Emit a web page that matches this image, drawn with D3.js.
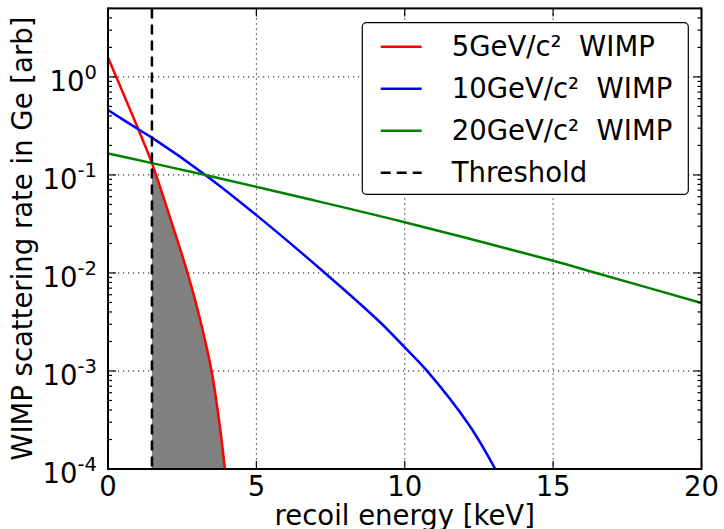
<!DOCTYPE html>
<html>
<head>
<meta charset="utf-8">
<script src="https://cdn.jsdelivr.net/npm/d3@7"></script>
<style>
  body { margin: 0; background: #fff; }
  svg { display: block; font-family: "DejaVu Sans", sans-serif; }
</style>
</head>
<body>
<div id="chart"></div>
<script>
// recoil energy [keV] and rate
const redEnergy = [0, 0.61, 1.02, 1.48, 2.0, 2.68, 3.1, 3.49, 3.75, 3.94];
const redRate = [1.574, 0.579, 0.292, 0.132, 0.0447, 0.01, 0.00339, 0.001, 0.000302, 0.0001];
const blueEnergy = [0, 1.02, 1.48, 3.28, 5, 7.31, 9.16, 10, 10.73, 12.19, 13.05];
const blueRate = [0.46, 0.292, 0.24, 0.1, 0.0389, 0.01, 0.00316, 0.00174, 0.00102, 0.000275, 0.0001];
const greenEnergy = [0, 1.48, 3.28, 6.46, 9.83, 15, 16.45, 20];
const greenRate = [0.166, 0.132, 0.1, 0.0596, 0.0339, 0.01334, 0.01, 0.00494];
const threshold = 1.48;

const seriesNames = ["5GeV/c²  WIMP", "10GeV/c²  WIMP", "20GeV/c²  WIMP"];
const seriesColors = ["#ff0000", "#0000ff", "#008000"];
const xTicks = [0, 5, 10, 15, 20];
const yDecades = [-4, -3, -2, -1, 0];

const width = 724, height = 529;
const plot = { left: 108, right: 701.5, top: 8.4, bottom: 469 };
const fs = 27.5;

const x = d3.scaleLinear().domain([0, 20]).range([plot.left, plot.right]);
const y = d3.scaleLog().domain([1e-4, 5]).range([plot.bottom, plot.top]);

const svg = d3.select("#chart").append("svg")
    .attr("width", width)
    .attr("height", height);

svg.append("rect").attr("width", width).attr("height", height).attr("fill", "#fff");

svg.append("clipPath").attr("id", "clip")
  .append("rect")
    .attr("x", plot.left).attr("y", plot.top)
    .attr("width", plot.right - plot.left).attr("height", plot.bottom - plot.top);

// grid
const grid = svg.append("g")
    .attr("stroke", "#000")
    .attr("stroke-width", 1)
    .attr("stroke-dasharray", "1.2,3.8");
grid.selectAll(".gx").data(xTicks.slice(1, -1)).enter().append("line")
    .attr("x1", d => x(d)).attr("x2", d => x(d))
    .attr("y1", plot.top).attr("y2", plot.bottom);
grid.selectAll(".gy").data(yDecades.slice(1)).enter().append("line")
    .attr("x1", plot.left).attr("x2", plot.right)
    .attr("y1", d => y(Math.pow(10, d))).attr("y2", d => y(Math.pow(10, d)));

const toPts = (es, rs) => es.map((e, i) => [e, rs[i]]);
const redPts = toPts(redEnergy, redRate);
const series = [redPts, toPts(blueEnergy, blueRate), toPts(greenEnergy, greenRate)];

const line = d3.line()
    .x(d => x(d[0]))
    .y(d => y(d[1]))
    .curve(d3.curveCatmullRom.alpha(0.5));

const area = d3.area()
    .x(d => x(d[0]))
    .y0(plot.bottom)
    .y1(d => y(d[1]))
    .curve(d3.curveCatmullRom.alpha(0.5));

const plotG = svg.append("g").attr("clip-path", "url(#clip)");

// shaded region above threshold for the 5 GeV curve
plotG.append("path")
    .datum(redPts.filter(d => d[0] >= threshold))
    .attr("d", area)
    .attr("fill", "#808080");

plotG.selectAll(".curve").data(series).enter().append("path")
    .attr("d", line)
    .attr("fill", "none")
    .attr("stroke", (d, i) => seriesColors[i])
    .attr("stroke-width", 2.5);

plotG.append("line")
    .attr("x1", x(threshold)).attr("x2", x(threshold))
    .attr("y1", plot.top).attr("y2", plot.bottom)
    .attr("stroke", "#000")
    .attr("stroke-width", 2.5)
    .attr("stroke-dasharray", "10,6");

// ticks
const ticks = svg.append("g").attr("stroke", "#000").attr("stroke-width", 1.2);
xTicks.forEach(t => {
  ticks.append("line").attr("x1", x(t)).attr("x2", x(t)).attr("y1", plot.bottom).attr("y2", plot.bottom - 8);
  ticks.append("line").attr("x1", x(t)).attr("x2", x(t)).attr("y1", plot.top).attr("y2", plot.top + 8);
});
const minor = [];
yDecades.forEach(p => {
  for (let m = 2; m <= 9; m++) {
    const v = m * Math.pow(10, p);
    if (v <= 5) minor.push(v);
  }
});
yDecades.forEach(p => {
  const yy = y(Math.pow(10, p));
  ticks.append("line").attr("x1", plot.left).attr("x2", plot.left + 8).attr("y1", yy).attr("y2", yy);
  ticks.append("line").attr("x1", plot.right).attr("x2", plot.right - 8).attr("y1", yy).attr("y2", yy);
});
minor.forEach(v => {
  const yy = y(v);
  ticks.append("line").attr("x1", plot.left).attr("x2", plot.left + 4).attr("y1", yy).attr("y2", yy);
  ticks.append("line").attr("x1", plot.right).attr("x2", plot.right - 4).attr("y1", yy).attr("y2", yy);
});

// frame
svg.append("rect")
    .attr("x", plot.left).attr("y", plot.top)
    .attr("width", plot.right - plot.left).attr("height", plot.bottom - plot.top)
    .attr("fill", "none")
    .attr("stroke", "#000")
    .attr("stroke-width", 2);

// tick labels
svg.selectAll(".xl").data(xTicks).enter().append("text")
    .attr("x", d => x(d))
    .attr("y", 496)
    .attr("text-anchor", "middle")
    .attr("font-size", fs)
    .text(d => d);

const yl = svg.selectAll(".yl").data(yDecades).enter().append("text")
    .attr("x", 97)
    .attr("y", d => y(Math.pow(10, d)) + 14)
    .attr("text-anchor", "end")
    .attr("font-size", fs);
yl.append("tspan").text("10");
yl.append("tspan").attr("dy", -11.7).attr("font-size", 19.5).text(d => d);

// axis labels
svg.append("text")
    .attr("x", (plot.left + plot.right) / 2)
    .attr("y", 524.5)
    .attr("text-anchor", "middle")
    .attr("font-size", fs)
    .text("recoil energy [keV]");

svg.append("text")
    .attr("transform", `translate(32,${(plot.top + plot.bottom) / 2}) rotate(-90)`)
    .attr("text-anchor", "middle")
    .attr("font-size", fs)
    .text("WIMP scattering rate in Ge [arb]");

// legend
const legend = svg.append("g");
legend.append("rect")
    .attr("x", 362.3).attr("y", 22.7)
    .attr("width", 326).attr("height", 171.6)
    .attr("rx", 4)
    .attr("fill", "#fff")
    .attr("stroke", "#000")
    .attr("stroke-width", 1.2);

const legendItems = seriesNames.map((n, i) => ({ name: n, color: seriesColors[i], dash: null }))
    .concat([{ name: "Threshold", color: "#000", dash: "10,6" }]);

const rows = legend.selectAll(".row").data(legendItems).enter().append("g")
    .attr("transform", (d, i) => `translate(0,${46.7 + i * 42})`);
rows.append("line")
    .attr("x1", 380.7).attr("x2", 421.7)
    .attr("stroke", d => d.color)
    .attr("stroke-width", 2.5)
    .attr("stroke-dasharray", d => d.dash);
rows.append("text")
    .attr("x", 451.7)
    .attr("y", 9.5)
    .attr("font-size", fs)
    .style("white-space", "pre")
    .text(d => d.name);
</script>
</body>
</html>
